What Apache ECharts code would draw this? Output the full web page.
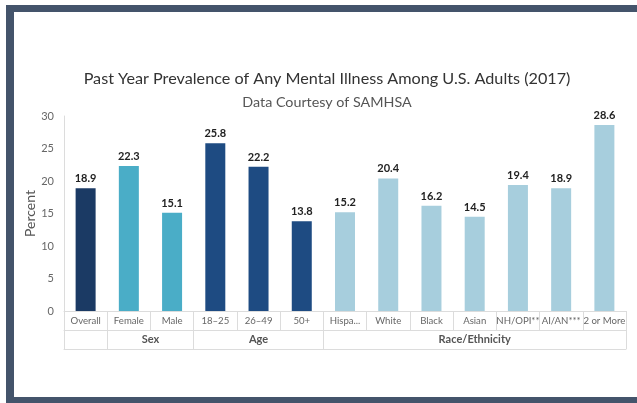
<!DOCTYPE html>
<html>
<head>
<meta charset="utf-8">
<script src="https://cdn.jsdelivr.net/npm/echarts@6/dist/echarts.min.js"></script>
<style>html,body{margin:0;padding:0;background:#fff}#c{width:637px;height:403px}</style>
</head>
<body>
<div id="c"></div>
<script>
const categories = ['Overall','Female','Male','18–25','26–49','50+','Hispanic','White','Black','Asian','NH/OPI**','AI/AN***','2 or More'];
const values = [18.9, 22.3, 15.1, 25.8, 22.2, 13.8, 15.2, 20.4, 16.2, 14.5, 19.4, 18.9, 28.6];
const groupNames = ['', 'Sex', 'Age', 'Race/Ethnicity'];
const groupSizes = [1, 2, 3, 7];
const groupColors = ['#1b3a64', '#4aadc7', '#1e4b82', '#a7cedd'];
const yTicks = [0, 5, 10, 15, 20, 25, 30];

// derive per-bar colour, group boundaries and group label centres
const barColors = [];
const boundaries = [0];
const labelPos = [];
const labelName = {};
let acc = 0;
groupSizes.forEach((n, gi) => {
  for (let i = 0; i < n; i++) barColors.push(groupColors[gi]);
  labelPos.push(acc + n / 2);
  labelName[acc + n / 2] = groupNames[gi];
  acc += n;
  boundaries.push(acc);
});

const FONT = 'Lato';
const lineColor = '#dcdcdc';
const catData = categories.map(c => c === 'Hispanic'
  ? {value: c, textStyle: {width: 37, overflow: 'truncate', ellipsis: '...'}}
  : c);
const chart = echarts.init(document.getElementById('c'), null, {renderer: 'canvas'});
chart.setOption({
  animation: false,
  backgroundColor: '#fff',
  graphic: [
    {type: 'rect', shape: {x: 6, y: 5, width: 631, height: 7}, style: {fill: '#44546b'}, silent: true},
    {type: 'rect', shape: {x: 6, y: 5, width: 8, height: 398}, style: {fill: '#44546b'}, silent: true},
    {type: 'rect', shape: {x: 6, y: 397, width: 631, height: 6}, style: {fill: '#44546b'}, silent: true}
  ],
  title: [
    {text: 'Past Year Prevalence of Any Mental Illness Among U.S. Adults (2017)', left: 322, textAlign: 'center', top: 66,
     textStyle: {fontFamily: FONT, fontSize: 16.2, fontWeight: 'normal', color: '#333'}},
    {text: 'Data Courtesy of SAMHSA', left: 322, textAlign: 'center', top: 90,
     textStyle: {fontFamily: FONT, fontSize: 14.3, fontWeight: 'normal', color: '#555'}}
  ],
  grid: {left: 64, right: 11, top: 116, bottom: 92, containLabel: false},
  xAxis: [
    {type: 'category', data: catData, position: 'bottom', offset: 0,
     axisLine: {show: true, lineStyle: {color: lineColor}},
     axisTick: {show: true, interval: 0, length: 19, lineStyle: {color: lineColor}},
     axisLabel: {interval: 0, margin: 5, fontFamily: FONT, fontSize: 9.6, color: '#666'},
     splitLine: {show: false}},
    {type: 'value', min: 0, max: acc, position: 'bottom', offset: 19,
     axisLine: {show: true, lineStyle: {color: lineColor}},
     axisTick: {show: true, customValues: boundaries, length: 19, lineStyle: {color: lineColor}},
     axisLabel: {customValues: labelPos, margin: 4, fontFamily: FONT, fontSize: 11, fontWeight: 'bold', color: '#555',
                 formatter: v => labelName[v] || ''},
     splitLine: {show: false}},
    {type: 'value', min: 0, max: acc, position: 'bottom', offset: 38,
     axisLine: {show: true, lineStyle: {color: lineColor}},
     axisTick: {show: false}, axisLabel: {show: false}, splitLine: {show: false}}
  ],
  yAxis: {type: 'value', min: yTicks[0], max: yTicks[yTicks.length - 1], interval: yTicks[1] - yTicks[0],
    name: 'Percent', nameLocation: 'middle', nameRotate: 90, nameGap: 27, nameMoveOverlap: false,
    nameTextStyle: {fontFamily: FONT, fontSize: 14, color: '#555'},
    axisLine: {show: true, lineStyle: {color: lineColor}},
    axisTick: {show: false},
    axisLabel: {margin: 10, fontFamily: FONT, fontSize: 11, color: '#666'},
    splitLine: {show: false}},
  series: [{
    type: 'bar', xAxisIndex: 0, barWidth: 20,
    data: values.map((v, i) => ({value: v, itemStyle: {color: barColors[i]}})),
    label: {show: true, position: 'top', distance: 4, fontFamily: FONT, fontSize: 11, fontWeight: 'bold', color: '#222',
            formatter: p => p.value.toFixed(1)}
  }]
});
</script>
</body>
</html>
